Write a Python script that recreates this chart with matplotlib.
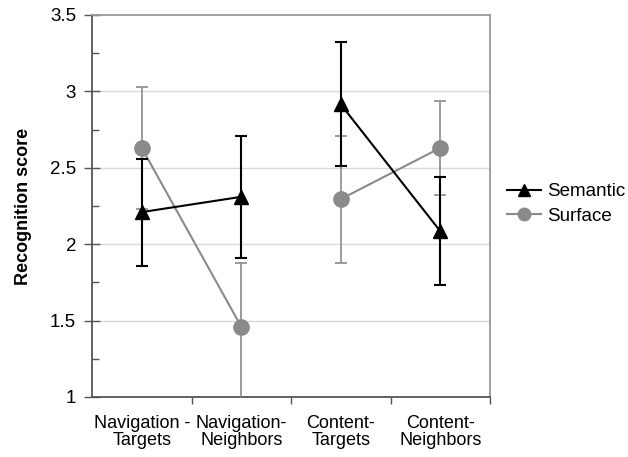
import matplotlib
matplotlib.use("Agg")
import matplotlib.pyplot as plt
from matplotlib.lines import Line2D
import numpy as np

categories = ["Navigation -\nTargets", "Navigation-\nNeighbors", "Content-\nTargets", "Content-\nNeighbors"]
semantic = [2.21, 2.31, 2.915, 2.085]
semantic_err = [0.35, 0.40, 0.405, 0.355]
surface = [2.63, 1.46, 2.295, 2.63]
surface_err_low = [0.40, 0.50, 0.415, 0.305]
surface_err_high = [0.40, 0.42, 0.415, 0.305]
groups = [[0, 1], [2, 3]]

plt.rcParams['font.family'] = ['Liberation Sans', 'DejaVu Sans']

fig = plt.figure(figsize=(6.28, 4.57), dpi=100)
ax = fig.add_axes([0.1465, 0.1313, 0.6338, 0.8359])

x = np.arange(len(categories))
black = "#000000"
gray = "#8a8a8a"

ax.errorbar(x, surface, yerr=[surface_err_low, surface_err_high], fmt='none', ecolor=gray,
            capsize=4.5, elinewidth=1.2, capthick=1.2, zorder=3)
ax.errorbar(x, semantic, yerr=semantic_err, fmt='none', ecolor=black,
            capsize=4.5, elinewidth=1.5, capthick=1.5, zorder=4)
for g in groups:
    ax.plot(x[g], np.array(surface)[g], color=gray, lw=1.5, marker='o', markersize=11, zorder=3)
    ax.plot(x[g], np.array(semantic)[g], color=black, lw=1.5, marker='^', markersize=10, zorder=4)

ax.set_xlim(-0.5, 3.5)
ax.set_ylim(1, 3.5)
ax.set_yticks([1, 1.5, 2, 2.5, 3, 3.5])
ax.set_yticklabels(["1", "1.5", "2", "2.5", "3", "3.5"])
ax.set_yticks(np.arange(1.25, 3.5, 0.5), minor=True)
ax.set_xticks(x)
ax.set_xticklabels(categories, fontsize=13, linespacing=1.0)
ax.set_xticks([0.5, 1.5, 2.5, 3.5], minor=True)
ax.tick_params(axis='x', which='major', length=0, pad=13)
ax.tick_params(axis='x', which='minor', direction='out', length=5, color='#555555', width=1)
ax.tick_params(axis='y', which='major', direction='inout', length=11, color='#555555', width=1, labelsize=13.5, pad=6)
ax.tick_params(axis='y', which='minor', direction='in', length=5, color='#555555', width=1)

for yv in [1.5, 2, 2.5, 3]:
    ax.axhline(yv, color='#d9d9d9', lw=1, zorder=0)

ax.spines['left'].set_color('#555555')
ax.spines['bottom'].set_color('#555555')
ax.spines['top'].set_color('#999999')
ax.spines['right'].set_color('#999999')
for s in ax.spines.values():
    s.set_linewidth(1.3)

ax.set_ylabel("Recognition score", fontsize=13, fontweight='bold', labelpad=13)

handles = [Line2D([], [], color=black, lw=1.5, marker='^', markersize=9),
           Line2D([], [], color=gray, lw=1.5, marker='o', markersize=9)]
labels = ["Semantic", "Surface"]
leg = fig.legend(handles, labels, loc='center left', bbox_to_anchor=(0.807, 0.554),
                 frameon=False, fontsize=13.5, handlelength=1.85, handletextpad=0.3,
                 labelspacing=0.4, borderaxespad=0, borderpad=0)

fig.savefig("out.png", dpi=100)
